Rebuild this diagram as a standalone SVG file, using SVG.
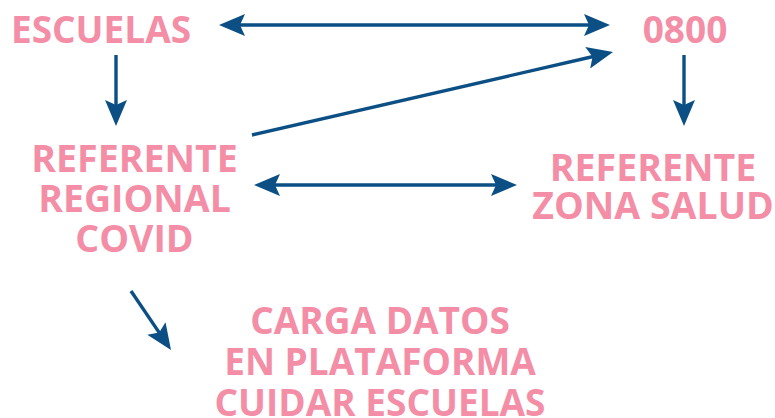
<svg xmlns="http://www.w3.org/2000/svg" width="775" height="418" viewBox="0 0 775 418">
<defs>
<style>
.t{font-family:"Open Sans","Noto Sans","Liberation Sans",sans-serif;font-weight:700;fill:#f48ea6;text-anchor:middle}
.c{stroke:#0b4f85;stroke-width:3.4;fill:none;marker-end:url(#ah)}
.b{marker-start:url(#ah)}
</style>
<marker id="ah" viewBox="0 0 26 22" markerWidth="26" markerHeight="22" markerUnits="userSpaceOnUse" refX="8" refY="11" orient="auto-start-reverse">
<path d="M0,0 L26,11 L0,22 L5,11 Z" fill="#0b4f85"/>
</marker>
</defs>
<rect width="775" height="418" fill="#ffffff"/>
<g id="connectors">
<line class="c b" x1="237" y1="25" x2="592" y2="25"/>
<line class="c" x1="252" y1="135" x2="595.5" y2="56"/>
<line class="c" x1="116" y1="55" x2="116" y2="108"/>
<line class="c" x1="684" y1="55" x2="684" y2="108"/>
<line class="c b" x1="272" y1="185" x2="499" y2="185"/>
<line class="c" x1="131" y1="291" x2="160.9" y2="335.1"/>
</g>
<g id="escuelas"><text class="t" x="101" y="43" font-size="37">ESCUELAS</text></g>
<g id="n0800"><text class="t" x="685" y="43" font-size="37">0800</text></g>
<g id="referente-regional"><text class="t" font-size="37.5"><tspan x="134.5" y="172">REFERENTE</tspan><tspan x="134.5" y="212">REGIONAL</tspan><tspan x="134.5" y="252">COVID</tspan></text></g>
<g id="referente-zona"><text class="t" font-size="37.5"><tspan x="653" y="181">REFERENTE</tspan><tspan x="653" y="219">ZONA SALUD</tspan></text></g>
<g id="carga-datos"><text class="t" font-size="37"><tspan x="380" y="334">CARGA DATOS</tspan><tspan x="380" y="375">EN PLATAFORMA</tspan><tspan x="380" y="416">CUIDAR ESCUELAS</tspan></text></g>
</svg>
